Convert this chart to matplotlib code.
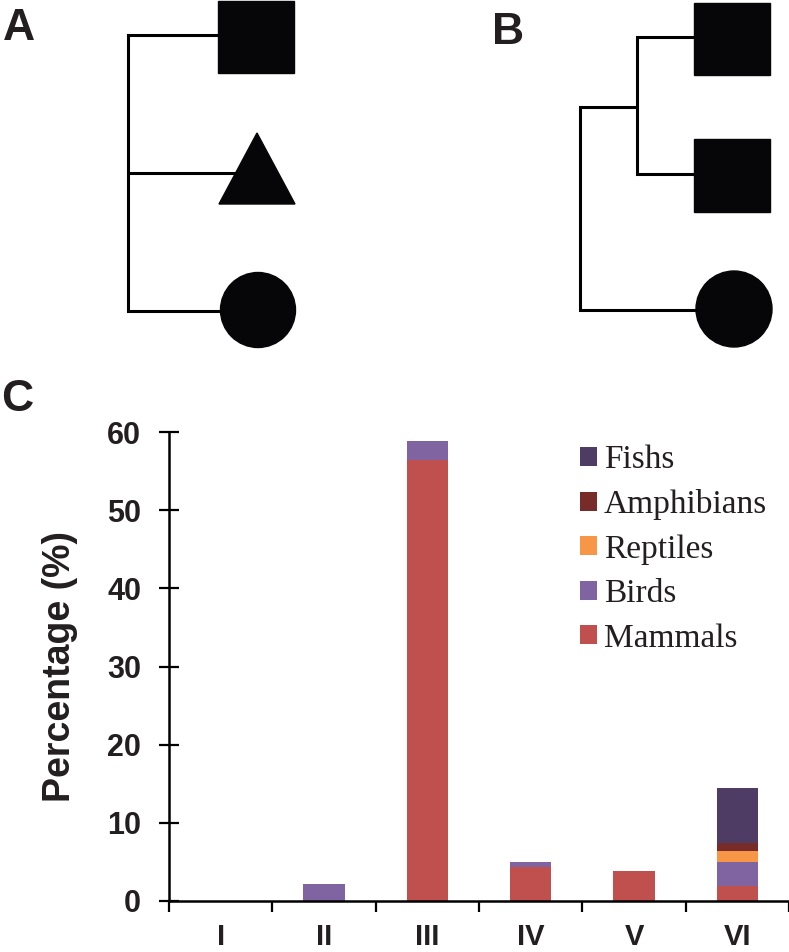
import matplotlib
matplotlib.use('Agg')
import matplotlib.pyplot as plt
from matplotlib.patches import Rectangle, Polygon, Circle
import numpy as np

# panel C data (percent per group, stacked)
groups = ['I', 'II', 'III', 'IV', 'V', 'VI']
mammals = [0.0, 0.0, 56.4, 4.3, 3.9, 1.9]
birds = [0.0, 2.2, 2.4, 0.7, 0.0, 3.1]
reptiles = [0.0, 0.0, 0.0, 0.0, 0.0, 1.4]
amphibians = [0.0, 0.0, 0.0, 0.0, 0.0, 1.0]
fishs = [0.0, 0.0, 0.0, 0.0, 0.0, 7.1]
y_ticks = [0, 10, 20, 30, 40, 50, 60]

series = [('Mammals', mammals, '#c0504d'),
          ('Birds', birds, '#8064a2'),
          ('Reptiles', reptiles, '#f79646'),
          ('Amphibians', amphibians, '#772c2a'),
          ('Fishs', fishs, '#4e3c64')]

# panels A and B: cladograms drawn in figure pixels
tree_a_lines = [[(219, 35), (128, 35), (128, 311), (221, 311)],
                [(128, 173), (237, 173)]]
tree_b_lines = [[(694, 37), (637, 37), (637, 174), (694, 174)],
                [(637, 107), (580, 107), (580, 310), (697, 310)]]
squares = [(218, 1, 76, 72), (694, 3, 76, 72), (694, 139, 76, 73)]
triangles = [[(257, 133), (219, 204), (295, 204)]]
circles = [(258, 310, 37.5), (734, 309, 38)]
panel_letters = [('A', 3, 40), ('B', 492, 44), ('C', 1, 411)]

W, H = 789, 952
fig = plt.figure(figsize=(W / 100, H / 100), dpi=100)

# overlay axes in pixel units
ov = fig.add_axes([0, 0, 1, 1])
ov.set_xlim(0, W)
ov.set_ylim(H, 0)
ov.set_axis_off()
for path in tree_a_lines + tree_b_lines:
    xs, ys = zip(*path)
    ov.plot(xs, ys, color='black', lw=2.2, solid_joinstyle='miter', solid_capstyle='butt')
for x, y, w, h in squares:
    ov.add_patch(Rectangle((x, y), w, h, color='#060608'))
for tri in triangles:
    ov.add_patch(Polygon(tri, closed=True, color='#060608'))
for cx, cy, r in circles:
    ov.add_patch(Circle((cx, cy), r, color='#060608'))
for letter, x, y in panel_letters:
    ov.text(x, y, letter, fontsize=32, fontweight='bold', family='Liberation Sans',
            color='#231f20', ha='left', va='baseline')

# bar chart axes
ax = fig.add_axes([169 / W, 1 - 901 / H, 1 - 169 / W, (901 - 432) / H])
xpos = np.arange(1, len(groups) + 1)
bottom = np.zeros(len(groups))
handles = {}
for name, vals, col in series:
    b = ax.bar(xpos, vals, width=0.4, bottom=bottom, color=col, label=name, zorder=2)
    handles[name] = b
    bottom += np.array(vals)

ax.set_xlim(0.5, len(groups) + 0.5)
ax.set_ylim(0, 60)
for s in ['top', 'right']:
    ax.spines[s].set_visible(False)
ax.spines['left'].set_linewidth(1.8)
ax.spines['bottom'].set_linewidth(1.8)
ax.spines['bottom'].set_clip_on(False)

ax.set_yticks(y_ticks)
ax.set_yticklabels([str(v) for v in y_ticks])
ax.tick_params(axis='y', direction='inout', length=14, width=1.6, pad=13,
               labelsize=22)
ax.set_xticks(np.arange(0.5, len(groups) + 1, 1.0))
ax.set_xticklabels([])
ax.set_xticks(xpos, minor=True)
ax.set_xticklabels(groups, minor=True)
ax.tick_params(axis='x', which='major', direction='out', length=8, width=1.6)
ax.tick_params(axis='x', which='minor', length=0, pad=16, labelsize=21)
for lab in ax.get_xticklabels(minor=True) + ax.get_yticklabels():
    lab.set_fontweight('bold')
    lab.set_family('Liberation Sans')
    lab.set_color('#231f20')

ax.set_ylabel('Percentage (%)', fontsize=27, fontweight='bold', family='Liberation Sans',
              color='#231f20', labelpad=21)

order = ['Fishs', 'Amphibians', 'Reptiles', 'Birds', 'Mammals']
leg = ax.legend([handles[n] for n in order], order, loc='upper left',
                bbox_to_anchor=(0.663, 0.973), frameon=False,
                prop={'family': 'Liberation Serif', 'size': 24},
                handlelength=0.5, handleheight=0.5, handletextpad=0.22,
                labelspacing=0.42, borderpad=0, borderaxespad=0)
for t in leg.get_texts():
    t.set_color('#231f20')

fig.savefig('out.png', dpi=100)
